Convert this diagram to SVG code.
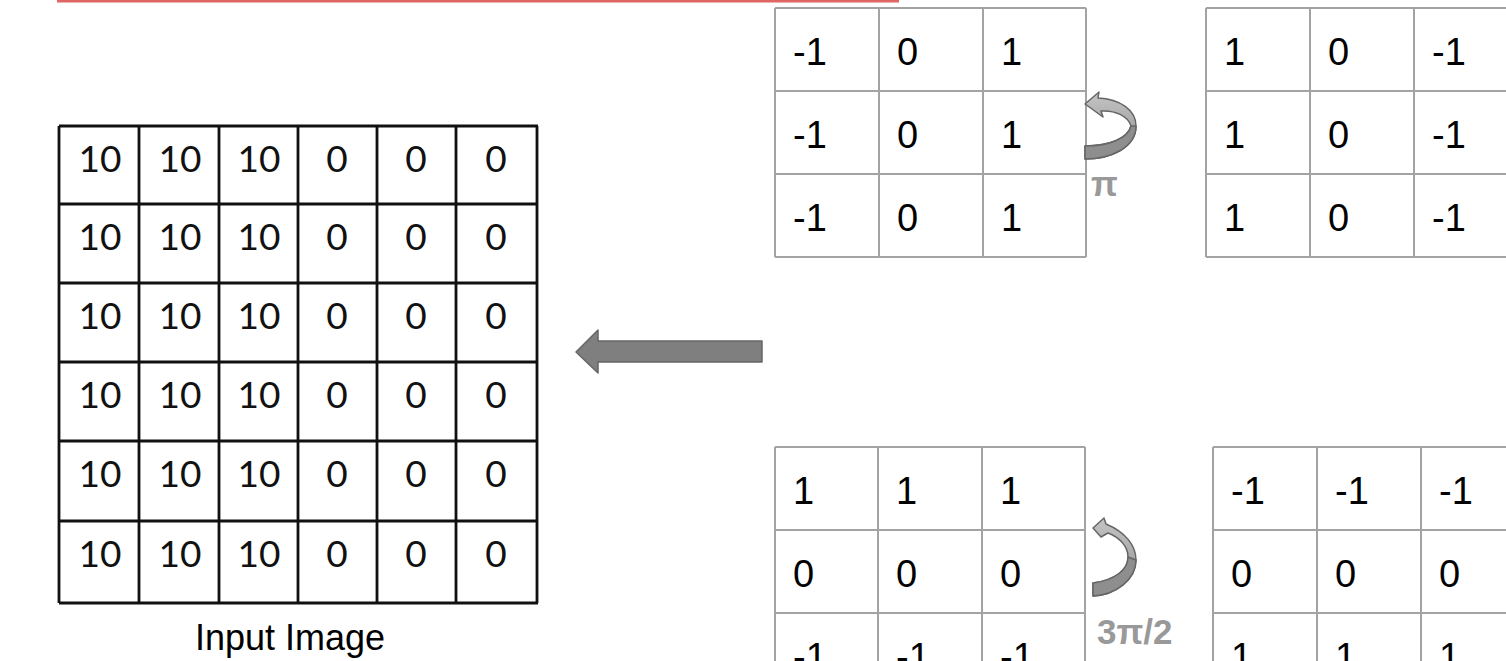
<svg xmlns="http://www.w3.org/2000/svg" width="1506" height="661" viewBox="0 0 1506 661">
<style>
.ig{stroke:#111;stroke-width:2.8;fill:none}
.it{font-family:Lato,"Open Sans",sans-serif;font-size:37px;fill:#111;text-anchor:middle}
.kg{stroke:#a3a3a3;stroke-width:2;fill:none}
.kt{font-family:"Liberation Sans",Arial,sans-serif;font-size:38px;fill:#000}
.lbl{font-family:"Liberation Sans",Arial,sans-serif;font-size:36px;fill:#000;text-anchor:middle}
.rl{font-family:"Liberation Sans",Arial,sans-serif;font-weight:bold;font-size:35px;fill:#999}
.rot{fill:url(#rg);stroke:#666;stroke-width:1.5;stroke-linejoin:round}
.rotd{fill:#8e8e8e;stroke:#666;stroke-width:1.5;stroke-linejoin:round}
</style>
<defs>
<linearGradient id="rg" x1="0" y1="0" x2="0" y2="1">
<stop offset="0" stop-color="#c4c4c4"/>
<stop offset="1" stop-color="#8f8f8f"/>
</linearGradient>
</defs>
<rect width="1506" height="661" fill="#fff"/>
<rect x="57" y="0" width="842" height="2.5" fill="#e06666"/>

<g id="input-image">
<path class="ig" d="M59,126H538M59,204H538M59,283H538M59,362H538M59,441H538M59,521H538M59,603H538M59,126V603M139,126V603M219,126V603M298,126V603M377,126V603M456,126V603M537,126V603"/>
<g class="it">
<text x="100" y="172">10</text><text x="180" y="172">10</text><text x="259" y="172">10</text><text x="337" y="172">0</text><text x="416" y="172">0</text><text x="496" y="172">0</text>
<text x="100" y="250">10</text><text x="180" y="250">10</text><text x="259" y="250">10</text><text x="337" y="250">0</text><text x="416" y="250">0</text><text x="496" y="250">0</text>
<text x="100" y="329">10</text><text x="180" y="329">10</text><text x="259" y="329">10</text><text x="337" y="329">0</text><text x="416" y="329">0</text><text x="496" y="329">0</text>
<text x="100" y="408">10</text><text x="180" y="408">10</text><text x="259" y="408">10</text><text x="337" y="408">0</text><text x="416" y="408">0</text><text x="496" y="408">0</text>
<text x="100" y="487">10</text><text x="180" y="487">10</text><text x="259" y="487">10</text><text x="337" y="487">0</text><text x="416" y="487">0</text><text x="496" y="487">0</text>
<text x="100" y="567">10</text><text x="180" y="567">10</text><text x="259" y="567">10</text><text x="337" y="567">0</text><text x="416" y="567">0</text><text x="496" y="567">0</text>
</g>
<text class="lbl" x="290" y="650">Input Image</text>
</g>

<g id="kernel-top-left">
<path class="kg" d="M775,8H1086M775,91H1086M775,174H1086M775,257H1086M775,8V257M879,8V257M983,8V257M1086,8V257"/>
<g class="kt">
<text x="793" y="65">-1</text><text x="897" y="65">0</text><text x="1001" y="65">1</text>
<text x="793" y="148">-1</text><text x="897" y="148">0</text><text x="1001" y="148">1</text>
<text x="793" y="231">-1</text><text x="897" y="231">0</text><text x="1001" y="231">1</text>
</g>
</g>

<g id="kernel-top-right">
<path class="kg" d="M1206,8H1518M1206,91H1518M1206,174H1518M1206,257H1518M1206,8V257M1310,8V257M1414,8V257"/>
<g class="kt">
<text x="1224" y="65">1</text><text x="1328" y="65">0</text><text x="1432" y="65">-1</text>
<text x="1224" y="148">1</text><text x="1328" y="148">0</text><text x="1432" y="148">-1</text>
<text x="1224" y="231">1</text><text x="1328" y="231">0</text><text x="1432" y="231">-1</text>
</g>
</g>

<g id="kernel-bottom-left">
<path class="kg" d="M775,447H1085M775,530H1085M775,613H1085M775,447V700M878,447V700M982,447V700M1085,447V700"/>
<g class="kt">
<text x="793" y="504">1</text><text x="896" y="504">1</text><text x="1000" y="504">1</text>
<text x="793" y="587">0</text><text x="896" y="587">0</text><text x="1000" y="587">0</text>
<text x="793" y="670">-1</text><text x="896" y="670">-1</text><text x="1000" y="670">-1</text>
</g>
</g>

<g id="kernel-bottom-right">
<path class="kg" d="M1213,447H1525M1213,530H1525M1213,613H1525M1213,447V700M1317,447V700M1421,447V700"/>
<g class="kt">
<text x="1231" y="504">-1</text><text x="1335" y="504">-1</text><text x="1439" y="504">-1</text>
<text x="1231" y="587">0</text><text x="1335" y="587">0</text><text x="1439" y="587">0</text>
<text x="1231" y="670">1</text><text x="1335" y="670">1</text><text x="1439" y="670">1</text>
</g>
</g>

<g id="connectors">
<path d="M762,341V362H598V373L576,352L598,330V341Z" fill="#7f7f7f" stroke="#666" stroke-width="1.5" stroke-linejoin="round"/>
<g id="rotate-pi">
<path class="rot" d="M1085,146C1110,146 1128,138 1131,126C1128,116 1115,110 1101,111L1103,117L1085,104L1099,92L1098,98C1120,99 1136,110 1136,126C1136,148 1110,159 1085,159Z"/>
<path class="rotd" d="M1085,146C1110,146 1128,138 1131,126L1136,126C1136,148 1110,159 1085,159Z"/>
<text class="rl" x="1091" y="196">π</text>
</g>
<g id="rotate-3pi2">
<path class="rot" d="M1093,583C1115,580 1128,570 1128,557C1128,545 1118,537 1108,533L1101,537L1093,528L1104,518L1106,524C1125,532 1136,545 1136,560C1136,580 1115,595 1093,596Z"/>
<path class="rotd" d="M1093,583C1115,580 1128,570 1128,557L1136,560C1136,580 1115,595 1093,596Z"/>
<text class="rl" x="1097" y="644">3π/2</text>
</g>
</g>
</svg>
